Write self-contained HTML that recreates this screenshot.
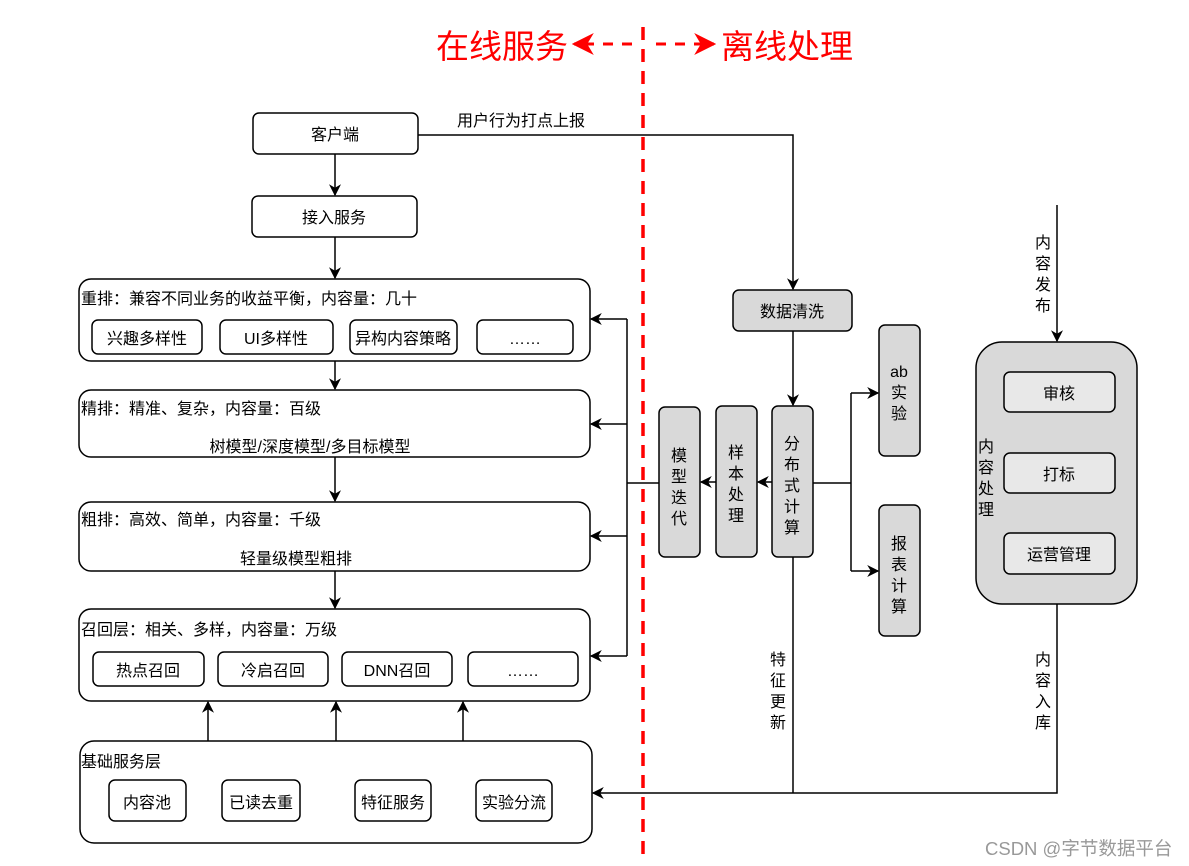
<!DOCTYPE html>
<html><head><meta charset="utf-8"><style>
html,body{margin:0;padding:0;background:#fff;}
svg{display:block;font-family:"Liberation Sans","Noto Sans CJK SC",sans-serif;}
</style></head><body>
<svg width="1189" height="866" viewBox="0 0 1189 866" xmlns="http://www.w3.org/2000/svg">
<defs>
<marker id="a" viewBox="0 0 10 10" refX="9" refY="5" markerWidth="12" markerHeight="12" orient="auto" markerUnits="userSpaceOnUse">
<path d="M0,0 L10,5 L0,10 L3,5 z" fill="#000"/></marker>
<marker id="r" viewBox="0 0 10 10" refX="9" refY="5" markerWidth="22" markerHeight="22" orient="auto" markerUnits="userSpaceOnUse">
<path d="M0,0 L10,5 L0,10 L3,5 z" fill="#f00"/></marker>
</defs>
<g font-size="16" fill="#000">
<text x="436" y="58" font-size="33" fill="#f00">在线服务</text>
<text x="721" y="58" font-size="33" fill="#f00">离线处理</text>
<line x1="632" y1="44" x2="574" y2="44" stroke="#f00" stroke-width="3" stroke-dasharray="10,9" marker-end="url(#r)"/>
<line x1="656" y1="44" x2="714" y2="44" stroke="#f00" stroke-width="3" stroke-dasharray="10,9" marker-end="url(#r)"/>
<line x1="643" y1="27" x2="643" y2="860" stroke="#f00" stroke-width="3.5" stroke-dasharray="13,9"/>

<g stroke="#000" stroke-width="1.5" fill="none">
<rect x="253" y="113" width="165" height="41" rx="6" fill="#fff"/>
<rect x="252" y="196" width="165" height="41" rx="6" fill="#fff"/>
<rect x="79" y="279" width="511" height="82" rx="12" fill="#fff"/>
<rect x="92" y="320" width="110" height="34" rx="6"/>
<rect x="220" y="320" width="113" height="34" rx="6"/>
<rect x="350" y="320" width="107" height="34" rx="6"/>
<rect x="477" y="320" width="96" height="34" rx="6"/>
<rect x="79" y="390" width="511" height="67" rx="12" fill="#fff"/>
<rect x="79" y="502" width="511" height="69" rx="12" fill="#fff"/>
<rect x="79" y="609" width="511" height="92" rx="12" fill="#fff"/>
<rect x="93" y="652" width="111" height="34" rx="6"/>
<rect x="218" y="652" width="110" height="34" rx="6"/>
<rect x="342" y="652" width="110" height="34" rx="6"/>
<rect x="468" y="652" width="110" height="34" rx="6"/>
<rect x="80" y="741" width="512" height="102" rx="14" fill="#fff"/>
<rect x="109" y="780" width="77" height="41" rx="6"/>
<rect x="222" y="780" width="78" height="41" rx="6"/>
<rect x="355" y="780" width="76" height="41" rx="6"/>
<rect x="476" y="780" width="76" height="41" rx="6"/>

<rect x="733" y="290" width="119" height="41" rx="6" fill="#d9d9d9"/>
<rect x="772" y="406" width="41" height="151" rx="6" fill="#d9d9d9"/>
<rect x="716" y="406" width="41" height="151" rx="6" fill="#d9d9d9"/>
<rect x="659" y="407" width="41" height="150" rx="6" fill="#d9d9d9"/>
<rect x="879" y="325" width="41" height="131" rx="6" fill="#d9d9d9"/>
<rect x="879" y="505" width="41" height="131" rx="6" fill="#d9d9d9"/>
<rect x="976" y="342" width="161" height="262" rx="26" fill="#d9d9d9"/>
<rect x="1004" y="372" width="111" height="40" rx="6" fill="#e8e8e8"/>
<rect x="1004" y="453" width="111" height="40" rx="6" fill="#e8e8e8"/>
<rect x="1004" y="533" width="111" height="41" rx="6" fill="#e8e8e8"/>

<line x1="335" y1="154" x2="335" y2="195" marker-end="url(#a)"/>
<line x1="335" y1="237" x2="335" y2="278" marker-end="url(#a)"/>
<line x1="335" y1="361" x2="335" y2="389" marker-end="url(#a)"/>
<line x1="335" y1="457" x2="335" y2="501" marker-end="url(#a)"/>
<line x1="335" y1="571" x2="335" y2="608" marker-end="url(#a)"/>
<line x1="208" y1="741" x2="208" y2="702" marker-end="url(#a)"/>
<line x1="336" y1="741" x2="336" y2="702" marker-end="url(#a)"/>
<line x1="463" y1="741" x2="463" y2="702" marker-end="url(#a)"/>
<polyline points="418,135 793,135 793,289" marker-end="url(#a)"/>
<line x1="793" y1="331" x2="793" y2="405" marker-end="url(#a)"/>
<line x1="772" y1="482" x2="758" y2="482" marker-end="url(#a)"/>
<line x1="716" y1="482" x2="701" y2="482" marker-end="url(#a)"/>
<polyline points="813,483 851,483"/>
<polyline points="851,393 851,571"/>
<line x1="851" y1="393" x2="878" y2="393" marker-end="url(#a)"/>
<line x1="851" y1="571" x2="878" y2="571" marker-end="url(#a)"/>
<line x1="659" y1="483" x2="627" y2="483"/>
<line x1="627" y1="319" x2="627" y2="656"/>
<line x1="627" y1="319" x2="591" y2="319" marker-end="url(#a)"/>
<line x1="627" y1="424" x2="591" y2="424" marker-end="url(#a)"/>
<line x1="627" y1="536" x2="591" y2="536" marker-end="url(#a)"/>
<line x1="627" y1="656" x2="591" y2="656" marker-end="url(#a)"/>
<polyline points="793,557 793,793"/>
<polyline points="1057,604 1057,793 593,793" marker-end="url(#a)"/>
<line x1="1057" y1="205" x2="1057" y2="341" marker-end="url(#a)"/>
</g>

<g text-anchor="middle">
<text x="335" y="140">客户端</text>
<text x="334" y="223">接入服务</text>
<text x="147" y="344">兴趣多样性</text>
<text x="276" y="344">UI多样性</text>
<text x="403" y="344">异构内容策略</text>
<text x="525" y="344">……</text>
<text x="310" y="452">树模型/深度模型/多目标模型</text>
<text x="296" y="564">轻量级模型粗排</text>
<text x="148" y="676">热点召回</text>
<text x="273" y="676">冷启召回</text>
<text x="397" y="676">DNN召回</text>
<text x="523" y="676">……</text>
<text x="147" y="808">内容池</text>
<text x="261" y="808">已读去重</text>
<text x="393" y="808">特征服务</text>
<text x="514" y="808">实验分流</text>
<text x="792" y="317">数据清洗</text>
<text x="1059" y="399">审核</text>
<text x="1059" y="480">打标</text>
<text x="1059" y="560">运营管理</text>
</g>
<text x="81" y="304">重排：兼容不同业务的收益平衡，内容量：几十</text>
<text x="81" y="414">精排：精准、复杂，内容量：百级</text>
<text x="81" y="525">粗排：高效、简单，内容量：千级</text>
<text x="81" y="635">召回层：相关、多样，内容量：万级</text>
<text x="81" y="767">基础服务层</text>
<text x="457" y="126">用户行为打点上报</text>

<g text-anchor="middle">
<text x="679" y="461">模</text><text x="679" y="482">型</text><text x="679" y="503">迭</text><text x="679" y="524">代</text>
<text x="736" y="458">样</text><text x="736" y="479">本</text><text x="736" y="500">处</text><text x="736" y="521">理</text>
<text x="792" y="449">分</text><text x="792" y="470">布</text><text x="792" y="491">式</text><text x="792" y="512">计</text><text x="792" y="533">算</text>
<text x="899" y="377">ab</text><text x="899" y="398">实</text><text x="899" y="419">验</text>
<text x="899" y="549">报</text><text x="899" y="570">表</text><text x="899" y="591">计</text><text x="899" y="612">算</text>
<text x="986" y="452">内</text><text x="986" y="473">容</text><text x="986" y="494">处</text><text x="986" y="515">理</text>
<text x="1043" y="248">内</text><text x="1043" y="269">容</text><text x="1043" y="290">发</text><text x="1043" y="311">布</text>
<text x="1043" y="665">内</text><text x="1043" y="686">容</text><text x="1043" y="707">入</text><text x="1043" y="728">库</text>
<text x="778" y="665">特</text><text x="778" y="686">征</text><text x="778" y="707">更</text><text x="778" y="728">新</text>
</g>
<text x="985" y="855" font-size="18.5" fill="#999">CSDN @字节数据平台</text>
</g>
</svg>
</body></html>
